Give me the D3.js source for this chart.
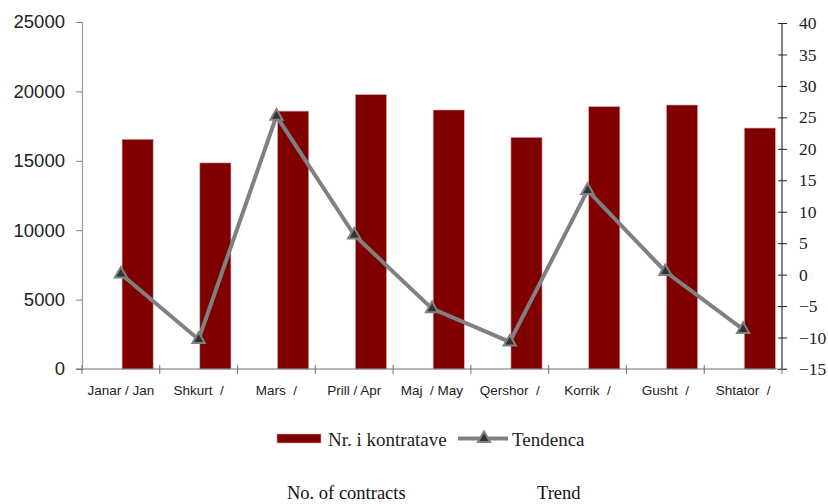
<!DOCTYPE html>
<html>
<head>
<meta charset="utf-8">
<script src="https://cdn.jsdelivr.net/npm/d3@7"></script>
<style>
  html, body { margin: 0; padding: 0; background: #fff; }
  svg { display: block; }
  text { white-space: pre; }
</style>
</head>
<body>
<svg id="chart" width="828" height="504"></svg>
<script>
const categories = ["Janar / Jan", "Shkurt  /", "Mars  /", "Prill / Apr", "Maj  / May", "Qershor  /", "Korrik  /", "Gusht  /", "Shtator  /"];
const contracts = [16550, 14850, 18580, 19770, 18660, 16690, 18900, 19020, 17360];
const trend = [0.1, -10.3, 25.2, 6.3, -5.4, -10.7, 13.4, 0.5, -8.7];
const leftTicks = [0, 5000, 10000, 15000, 20000, 25000];
const rightTicks = [-15, -10, -5, 0, 5, 10, 15, 20, 25, 30, 35, 40];
const legendLabels = ["Nr. i kontratave", "Tendenca"];
const footLabels = ["No. of contracts", "Trend"];

(function () {
const svg = d3.select("#chart");
const pLeft = 82, pRight = 782, pTop = 22, pBottom = 369;

const x = d3.scaleBand().domain(categories).range([pLeft, pRight]).padding(0);
const yL = d3.scaleLinear().domain([0, 25000]).range([pBottom, pTop]);
const yR = d3.scaleLinear().domain([-15, 40]).range([pBottom, 23]);
const bw = x.bandwidth();

// bars
svg.append("g").selectAll("rect").data(contracts).join("rect")
  .attr("x", (d, i) => x(categories[i]) + bw * 0.515)
  .attr("width", bw * 0.4)
  .attr("y", d => yL(d))
  .attr("height", d => pBottom - yL(d))
  .attr("fill", "#800000")
  .attr("stroke", "#d8a8a8")
  .attr("stroke-width", 0.6);

// left axis
const gL = svg.append("g").attr("transform", `translate(${pLeft},0)`)
  .call(d3.axisLeft(yL).tickValues(leftTicks).tickSize(6).tickPadding(11).tickFormat(d3.format("d")));
gL.select(".domain").attr("stroke", "#a0a0a0").attr("stroke-width", 1.2);
gL.selectAll(".tick line").attr("stroke", "#808080");
gL.selectAll("text").attr("font-family", "Liberation Sans, Arial, sans-serif").attr("font-size", 18.5).attr("fill", "#222");

// right axis
const gR = svg.append("g").attr("transform", `translate(${pRight},0)`)
  .call(d3.axisRight(yR).tickValues(rightTicks).tickSize(5).tickPadding(12));
gR.select(".domain").attr("stroke", "#333").attr("stroke-width", 1.2).attr("d", `M0,${yR(40)}V${yR(-15)}`);
gR.selectAll(".tick line").attr("x1", -4).attr("x2", 5).attr("stroke", "#222");
gR.selectAll("text").attr("font-family", "Liberation Serif, Times New Roman, serif").attr("font-size", 17.5).attr("fill", "#222");

// x axis
const gX = svg.append("g");
gX.append("line").attr("x1", pLeft - 6).attr("x2", pRight + 5).attr("y1", pBottom).attr("y2", pBottom)
  .attr("stroke", "#707070").attr("stroke-width", 1.2);
const bounds = categories.map(c => x(c)).concat([pRight]);
gX.selectAll("line.t").data(bounds).join("line").attr("class", "t")
  .attr("x1", d => d).attr("x2", d => d).attr("y1", pBottom - 4).attr("y2", pBottom + 5)
  .attr("stroke", "#707070");
gX.selectAll("text").data(categories).join("text")
  .attr("x", d => x(d) + bw / 2).attr("y", 395)
  .attr("text-anchor", "middle")
  .attr("font-family", "Liberation Sans, Arial, sans-serif").attr("font-size", 13.5).attr("fill", "#222")
  .text(d => d);

// trend line
const line = d3.line().x((d, i) => x(categories[i]) + bw / 2).y(d => yR(d));
svg.append("path").datum(trend).attr("d", line)
  .attr("fill", "none").attr("stroke", "#808080").attr("stroke-width", 4).attr("stroke-linejoin", "miter");
const tri = d3.symbol().type(d3.symbolTriangle).size(65);
svg.append("g").selectAll("path").data(trend).join("path")
  .attr("transform", (d, i) => `translate(${x(categories[i]) + bw / 2},${yR(d)})`)
  .attr("d", tri)
  .attr("fill", "#333").attr("stroke", "#808080").attr("stroke-width", 2);

// legend
const lg = svg.append("g");
lg.append("rect").attr("x", 277).attr("y", 434).attr("width", 44).attr("height", 9)
  .attr("fill", "#800000").attr("stroke", "#d8a8a8").attr("stroke-width", 0.6);
lg.append("text").attr("x", 328).attr("y", 446).text(legendLabels[0]);
lg.append("line").attr("x1", 458).attr("x2", 508).attr("y1", 438.5).attr("y2", 438.5)
  .attr("stroke", "#808080").attr("stroke-width", 4);
lg.append("path").attr("transform", "translate(484,438.5)").attr("d", tri)
  .attr("fill", "#333").attr("stroke", "#808080").attr("stroke-width", 2);
lg.append("text").attr("x", 512).attr("y", 446).text(legendLabels[1]);
lg.selectAll("text").attr("font-family", "Liberation Serif, Times New Roman, serif").attr("font-size", 19).attr("fill", "#222");

// footnote
const ft = svg.append("g").attr("font-family", "Liberation Serif, Times New Roman, serif").attr("font-size", 18.5).attr("fill", "#111");
ft.append("text").attr("x", 287).attr("y", 499).text(footLabels[0]);
ft.append("text").attr("x", 537).attr("y", 499).text(footLabels[1]);
})();
</script>
</body>
</html>
